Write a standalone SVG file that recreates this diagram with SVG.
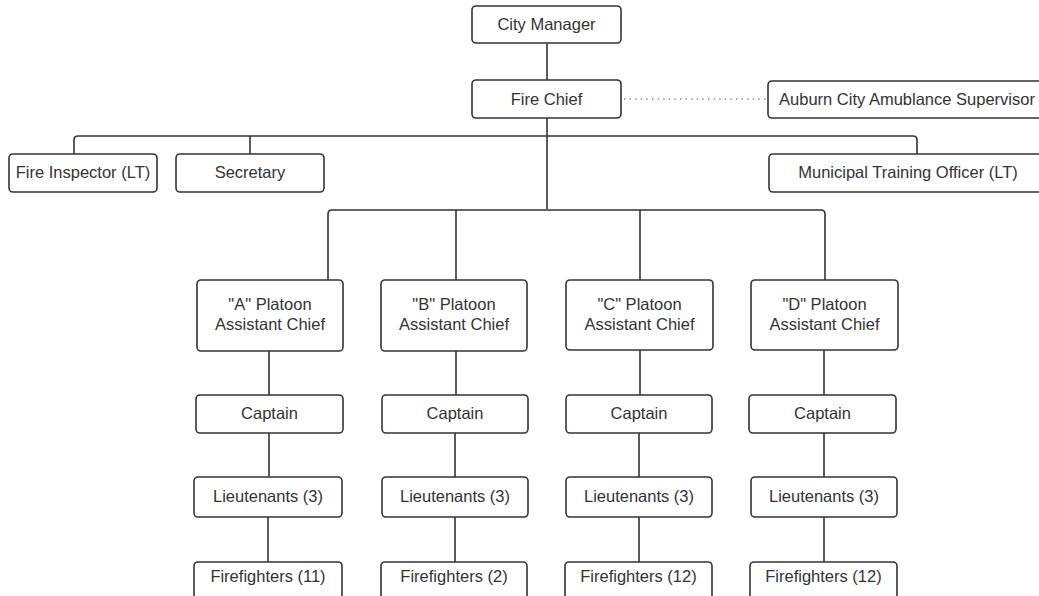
<svg xmlns="http://www.w3.org/2000/svg" width="1039" height="596" viewBox="0 0 1039 596">
<style>
.box{fill:#fff;stroke:#333;stroke-width:1.6}
.t{font-family:"Liberation Sans",Arial,sans-serif;font-size:16.5px;fill:#333;text-anchor:middle}
.c{fill:none;stroke:#333;stroke-width:1.6}
.d{fill:none;stroke:#888;stroke-width:1.4;stroke-dasharray:1.4 4.2}
</style>
<rect width="1039" height="596" fill="#fff"/>
<g id="connectors">
<path class="c" d="M547 43V80"/>
<path class="c" d="M547 118V209"/>
<path class="c" d="M74 154V140Q74 136 78 136H913Q917 136 917 140V154"/>
<path class="c" d="M250 136V154"/>
<path class="c" d="M328 280V214Q328 210 332 210H821Q825 210 825 214V280"/>
<path class="c" d="M456 210V280"/>
<path class="c" d="M640 210V280"/>
<path class="d" d="M624 99H767"/>
<path class="c" d="M269 351V395M269 433V477M268 517V562"/>
<path class="c" d="M456 351V395M455 433V477M455 517V562"/>
<path class="c" d="M640 350V395M639 433V477M639 517V562"/>
<path class="c" d="M824 350V395M824 433V477M824 517V562"/>
</g>
<g id="city-manager"><rect class="box" x="472" y="6" width="149" height="37" rx="4"/><text class="t" x="546.5" y="30">City Manager</text></g>
<g id="fire-chief"><rect class="box" x="472" y="80" width="149" height="38" rx="4"/><text class="t" x="546.5" y="104.5">Fire Chief</text></g>
<g id="ambulance"><rect class="box" x="768" y="81" width="278" height="37" rx="4"/><text class="t" x="907" y="105">Auburn City Amublance Supervisor</text></g>
<g id="fire-inspector"><rect class="box" x="9" y="154" width="148" height="38" rx="4"/><text class="t" x="83" y="178">Fire Inspector (LT)</text></g>
<g id="secretary"><rect class="box" x="176" y="154" width="148" height="38" rx="4"/><text class="t" x="250" y="178">Secretary</text></g>
<g id="training-officer"><rect class="box" x="769" y="154" width="278" height="38" rx="4"/><text class="t" x="908" y="178">Municipal Training Officer (LT)</text></g>
<g id="platoon-a"><rect class="box" x="197" y="280" width="146" height="71" rx="4"/><text class="t" x="270" y="310">"A" Platoon</text><text class="t" x="270" y="330">Assistant Chief</text></g>
<g id="platoon-b"><rect class="box" x="381" y="280" width="146" height="71" rx="4"/><text class="t" x="454" y="310">"B" Platoon</text><text class="t" x="454" y="330">Assistant Chief</text></g>
<g id="platoon-c"><rect class="box" x="566" y="280" width="147" height="70" rx="4"/><text class="t" x="639.5" y="310">"C" Platoon</text><text class="t" x="639.5" y="330">Assistant Chief</text></g>
<g id="platoon-d"><rect class="box" x="751" y="280" width="147" height="70" rx="4"/><text class="t" x="824.5" y="310">"D" Platoon</text><text class="t" x="824.5" y="330">Assistant Chief</text></g>
<g id="captain-a"><rect class="box" x="196" y="395" width="147" height="38" rx="4"/><text class="t" x="269.5" y="419">Captain</text></g>
<g id="captain-b"><rect class="box" x="382" y="395" width="146" height="38" rx="4"/><text class="t" x="455" y="419">Captain</text></g>
<g id="captain-c"><rect class="box" x="566" y="395" width="146" height="38" rx="4"/><text class="t" x="639" y="419">Captain</text></g>
<g id="captain-d"><rect class="box" x="749" y="395" width="147" height="38" rx="4"/><text class="t" x="822.5" y="419">Captain</text></g>
<g id="lieutenants-a"><rect class="box" x="194" y="477" width="148" height="40" rx="4"/><text class="t" x="268" y="502">Lieutenants (3)</text></g>
<g id="lieutenants-b"><rect class="box" x="382" y="477" width="146" height="40" rx="4"/><text class="t" x="455" y="502">Lieutenants (3)</text></g>
<g id="lieutenants-c"><rect class="box" x="566" y="477" width="146" height="40" rx="4"/><text class="t" x="639" y="502">Lieutenants (3)</text></g>
<g id="lieutenants-d"><rect class="box" x="751" y="477" width="146" height="40" rx="4"/><text class="t" x="824" y="502">Lieutenants (3)</text></g>
<g id="firefighters-a"><rect class="box" x="194" y="562" width="148" height="40" rx="4"/><text class="t" x="268" y="582">Firefighters (11)</text></g>
<g id="firefighters-b"><rect class="box" x="381" y="562" width="146" height="40" rx="4"/><text class="t" x="454" y="582">Firefighters (2)</text></g>
<g id="firefighters-c"><rect class="box" x="565" y="562" width="147" height="40" rx="4"/><text class="t" x="638.5" y="582">Firefighters (12)</text></g>
<g id="firefighters-d"><rect class="box" x="750" y="562" width="147" height="40" rx="4"/><text class="t" x="823.5" y="582">Firefighters (12)</text></g>
</svg>
